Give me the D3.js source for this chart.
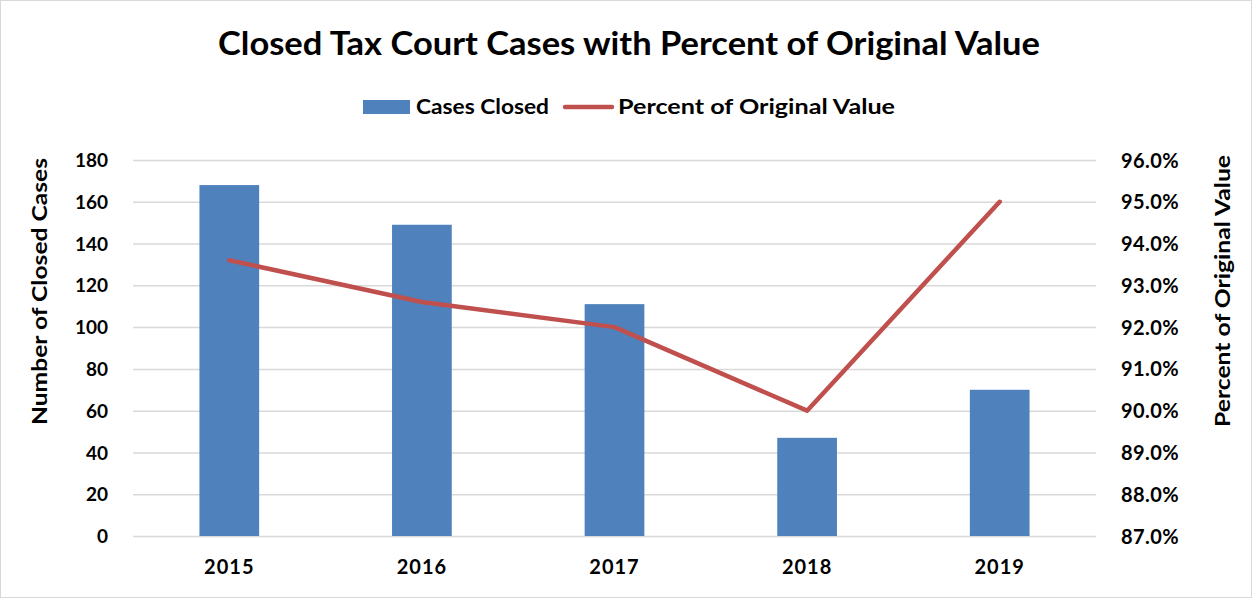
<!DOCTYPE html>
<html>
<head>
<meta charset="utf-8">
<script src="https://cdn.jsdelivr.net/npm/d3@7"></script>
<style>
  body { margin: 0; background: #fff; }
  text { font-family: Lato, "Noto Sans", sans-serif; font-weight: bold; fill: #000; }
</style>
</head>
<body>
<svg id="chart"></svg>
<script>
// Chart data
const years = ['2015', '2016', '2017', '2018', '2019'];
const casesClosed = [168, 149, 111, 47, 70];
const percentOriginal = [0.936, 0.926, 0.920, 0.900, 0.950];
const leftTicks = [0, 20, 40, 60, 80, 100, 120, 140, 160, 180];
const rightTicks = [0.87, 0.88, 0.89, 0.90, 0.91, 0.92, 0.93, 0.94, 0.95, 0.96];

const width = 1252;
const height = 598;
const margin = { top: 160, right: 156, bottom: 62, left: 133 };

const svg = d3.select('#chart')
  .attr('width', width)
  .attr('height', height);

// outer border
svg.append('rect')
  .attr('x', 0.5).attr('y', 0.5)
  .attr('width', width - 1).attr('height', height - 1)
  .attr('fill', '#fff')
  .attr('stroke', '#d9d9d9');

const x = d3.scaleBand()
  .domain(years)
  .range([margin.left, width - margin.right])
  .paddingInner(0.69)
  .paddingOuter(0.345);

const yLeft = d3.scaleLinear()
  .domain([0, 180])
  .range([height - margin.bottom, margin.top]);

const yRight = d3.scaleLinear()
  .domain([0.87, 0.96])
  .range([height - margin.bottom, margin.top]);

// gridlines
svg.append('g')
  .attr('transform', `translate(${margin.left},0)`)
  .call(d3.axisLeft(yLeft).tickValues(leftTicks).tickSize(-(width - margin.left - margin.right)).tickFormat(''))
  .call(g => g.select('.domain').remove())
  .call(g => g.selectAll('line').attr('stroke', '#d9d9d9').attr('stroke-width', 1.5));

// left axis labels
svg.append('g')
  .attr('transform', `translate(${margin.left - 22},0)`)
  .call(d3.axisLeft(yLeft).tickValues(leftTicks).tickSize(0))
  .call(g => g.select('.domain').remove())
  .call(g => g.selectAll('text').style('font-size', '19px').attr('dy', '0.35em'));

// right axis labels
svg.append('g')
  .attr('transform', `translate(${width - margin.right + 22},0)`)
  .call(d3.axisRight(yRight).tickValues(rightTicks).tickSize(0).tickFormat(d3.format('.1%')))
  .call(g => g.select('.domain').remove())
  .call(g => g.selectAll('text').style('font-size', '20px').style('letter-spacing', '0.4px').attr('dy', '0.35em'));

// x axis labels
svg.append('g')
  .attr('transform', `translate(0,${height - margin.bottom + 18})`)
  .call(d3.axisBottom(x).tickSize(0))
  .call(g => g.select('.domain').remove())
  .call(g => g.selectAll('text').style('font-size', '20px').style('letter-spacing', '1px').attr('dy', '0.85em'));

// bars
svg.selectAll('.bar')
  .data(years)
  .enter()
  .append('rect')
  .attr('class', 'bar')
  .attr('x', d => x(d))
  .attr('width', x.bandwidth())
  .attr('y', (d, i) => yLeft(casesClosed[i]))
  .attr('height', (d, i) => yLeft(0) - yLeft(casesClosed[i]))
  .attr('fill', '#4f81bd');

// percent line
const line = d3.line()
  .x((d, i) => x(years[i]) + x.bandwidth() / 2)
  .y(d => yRight(d));

svg.append('path')
  .datum(percentOriginal)
  .attr('d', line)
  .attr('fill', 'none')
  .attr('stroke', '#c0504d')
  .attr('stroke-width', 4.5)
  .attr('stroke-linejoin', 'round')
  .attr('stroke-linecap', 'round');

// title
svg.append('text')
  .attr('x', 218)
  .attr('y', 55)
  .attr('textLength', 822)
  .attr('lengthAdjust', 'spacingAndGlyphs')
  .style('font-size', '32px')
  .text('Closed Tax Court Cases with Percent of Original Value');

// legend
const legend = svg.append('g').attr('transform', 'translate(0,107)');
legend.append('rect')
  .attr('x', 363).attr('y', -7)
  .attr('width', 47).attr('height', 14)
  .attr('fill', '#4f81bd');
legend.append('text')
  .attr('x', 416).attr('y', 0).attr('dy', '0.35em')
  .attr('textLength', 133)
  .attr('lengthAdjust', 'spacingAndGlyphs')
  .style('font-size', '21px')
  .text('Cases Closed');
legend.append('line')
  .attr('x1', 565).attr('x2', 612)
  .attr('y1', 0).attr('y2', 0)
  .attr('stroke', '#c0504d')
  .attr('stroke-width', 4.5)
  .attr('stroke-linecap', 'round');
legend.append('text')
  .attr('x', 618).attr('y', 0).attr('dy', '0.35em')
  .attr('textLength', 277)
  .attr('lengthAdjust', 'spacingAndGlyphs')
  .style('font-size', '21px')
  .text('Percent of Original Value');

// axis titles
svg.append('text')
  .attr('transform', 'translate(40,425) rotate(-90)')
  .attr('dy', '0.35em')
  .attr('textLength', 267)
  .attr('lengthAdjust', 'spacingAndGlyphs')
  .style('font-size', '21px')
  .text('Number of Closed Cases');

svg.append('text')
  .attr('transform', 'translate(1223,427) rotate(-90)')
  .attr('dy', '0.35em')
  .attr('textLength', 272)
  .attr('lengthAdjust', 'spacingAndGlyphs')
  .style('font-size', '21px')
  .text('Percent of Original Value');
</script>
</body>
</html>
